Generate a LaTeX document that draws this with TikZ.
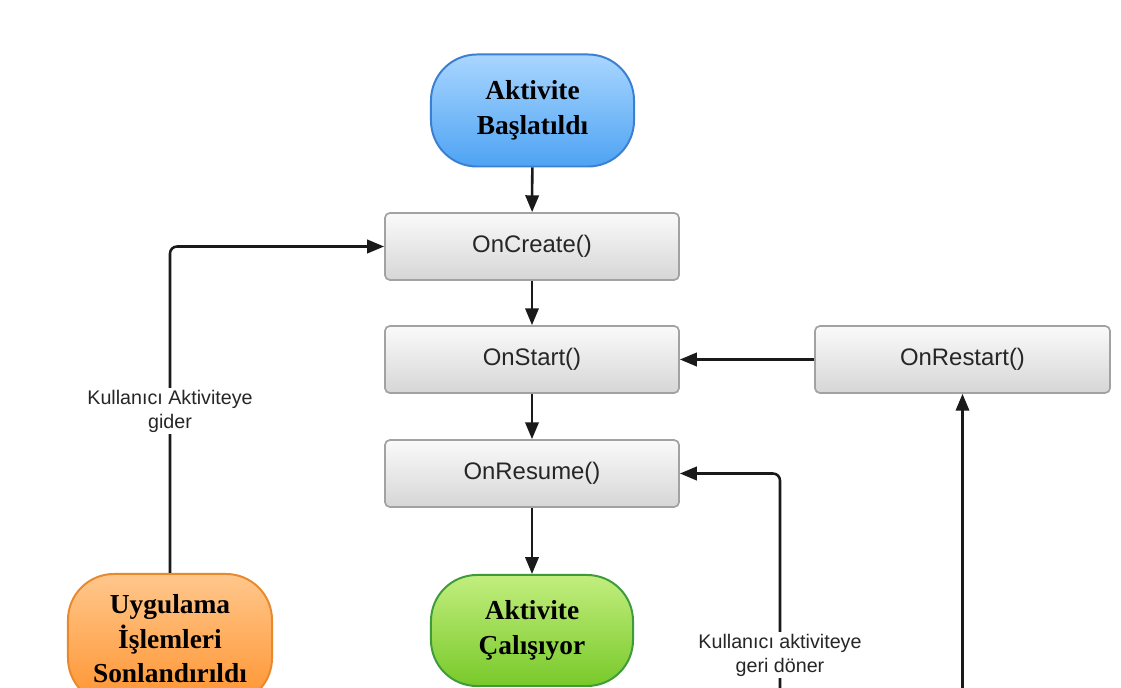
\documentclass[tikz,border=0pt]{standalone}
\usepackage{fontspec}
\setmainfont{Liberation Serif}
\setsansfont{Liberation Sans}
\usetikzlibrary{arrows.meta}
\definecolor{bluetop}{HTML}{A9D6FF}
\definecolor{bluebot}{HTML}{4EA3F3}
\definecolor{blueedge}{HTML}{3A80D2}
\definecolor{greentop}{HTML}{C2EE7E}
\definecolor{greenbot}{HTML}{78C92A}
\definecolor{greenedge}{HTML}{3E9B3A}
\definecolor{orangetop}{HTML}{FFC78C}
\definecolor{orangebot}{HTML}{FF9430}
\definecolor{orangeedge}{HTML}{E8892C}
\definecolor{graytop}{HTML}{FAFAFA}
\definecolor{graybot}{HTML}{D6D6D6}
\definecolor{grayedge}{HTML}{A2A2A2}
\definecolor{linecol}{HTML}{1A1A1A}
\definecolor{txt}{HTML}{262626}
\tikzset{
  x=0.025cm, y=-0.025cm,
  methodbox/.style={draw=grayedge, line width=1.2pt, rounded corners=3.5pt,
    top color=graytop, bottom color=graybot,
    minimum width=7.35cm, minimum height=1.675cm, inner sep=0pt,
    font=\sffamily\fontsize{17}{20}\selectfont, text=txt},
  statebox/.style={line width=1.4pt, rounded corners=1.15cm,
    minimum width=5.075cm, minimum height=2.8cm, inner sep=0pt, align=center,
    font=\bfseries\fontsize{19.5}{24.5}\selectfont, text=black},
  flow/.style={draw=linecol, line width=1.8pt,
    -{Triangle[length=12pt,width=9.5pt]}, rounded corners=5pt},
  lbl/.style={fill=white, inner sep=1pt, align=center, text=txt,
    font=\sffamily\fontsize{14}{17}\selectfont}
}
\begin{document}
\begin{tikzpicture}
\useasboundingbox (0,0) rectangle (1121,688);
\clip (0,0) rectangle (1121,688);
\fill[white] (0,0) rectangle (1121,688);

\node[statebox, draw=blueedge, top color=bluetop, bottom color=bluebot]
  (bas) at (532.5,110.5) {Aktivite\\Başlatıldı};
\node[methodbox] (create) at (532,246.5) {OnCreate()};
\node[methodbox] (start) at (532,359.5) {OnStart()};
\node[methodbox] (resume) at (532,473.5) {OnResume()};
\node[methodbox, minimum width=7.375cm] (restart) at (962.5,359.5) {OnRestart()};
\node[statebox, draw=greenedge, top color=greentop, bottom color=greenbot,
  minimum width=5.05cm, minimum height=2.775cm]
  (run) at (532,630.5) {Aktivite\\Çalışıyor};
\node[statebox, draw=orangeedge, top color=orangetop, bottom color=orangebot,
  minimum width=5.1cm, minimum height=3.25cm]
  (app) at (170,639) {Uygulama\\İşlemleri\\Sonlandırıldı};

\coordinate (r1) at (962.5,720);
\coordinate (q1) at (780,720);

\draw[flow] (bas) -- (create);
\draw[flow] (create) -- (start);
\draw[flow] (start) -- (resume);
\draw[flow] (resume) -- (run);
\draw[flow] (restart.west) -- (start.east);
\draw[flow] (r1) -- (restart.south);
\draw[flow] (q1) |- (resume.east);
\draw[flow] (app.north) |- (create.west);

\node[lbl] (lblgo) at (170,411) {Kullanıcı Aktiviteye\\gider};
\node[lbl] (lblback) at (780,655) {Kullanıcı aktiviteye\\geri döner};
\end{tikzpicture}
\end{document}
